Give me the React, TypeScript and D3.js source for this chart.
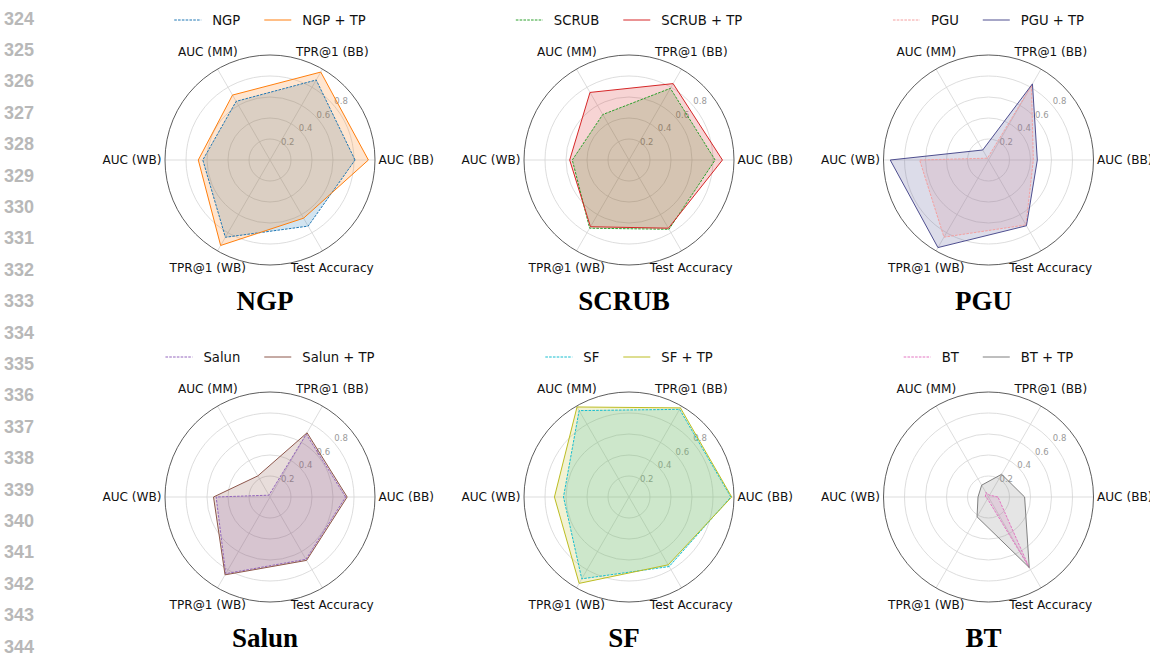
import React from "react";
import * as d3 from "d3";

// Radar axes, counter-clockwise from the east
const axisLabels = ["AUC (BB)", "TPR@1 (BB)", "AUC (MM)", "AUC (WB)", "TPR@1 (WB)", "Test Accuracy"];
const radialTicks = [0.2, 0.4, 0.6, 0.8];
const lineNumbers = d3.range(324, 345);

const methods = ["NGP", "SCRUB", "PGU", "Salun", "SF", "BT"];

// Scores per axis (same order as axisLabels)
const ngpBase = [0.81, 0.88, 0.645, 0.64, 0.85, 0.727];
const ngpTP = [0.937, 0.967, 0.714, 0.683, 0.94, 0.64];
const scrubBase = [0.82, 0.788, 0.5, 0.54, 0.75, 0.762];
const scrubTP = [0.89, 0.84, 0.743, 0.565, 0.734, 0.75];
const pguBase = [0.427, 0.818, 0.02, 0.656, 0.848, 0.714];
const pguTP = [0.465, 0.837, 0.11, 0.936, 0.963, 0.723];
const salunBase = [0.72, 0.69, 0.02, 0.513, 0.843, 0.685];
const salunTP = [0.735, 0.706, 0.232, 0.538, 0.856, 0.697];
const sfBase = [0.97, 0.964, 0.95, 0.624, 0.9, 0.765];
const sfTP = [0.978, 0.98, 0.99, 0.71, 0.95, 0.746];
const btBase = [0.09, 0.02, 0.05, 0.03, 0.02, 0.776];
const btTP = [0.344, 0.25, 0.13, 0.1, 0.218, 0.776];

const baseValues = [ngpBase, scrubBase, pguBase, salunBase, sfBase, btBase];
const tpValues = [ngpTP, scrubTP, pguTP, salunTP, sfTP, btTP];
const baseColors = ["#1f77b4", "#2ca02c", "#f4a0a0", "#9467bd", "#17becf", "#e377c2"];
const tpColors = ["#ff7f0e", "#d62728", "#4e4e8f", "#8c564b", "#bcbd22", "#7f7f7f"];

const W = 1150;
const H = 653;
const R = 105;
const colX = [270, 629, 988.5];
const rowY = [160, 497];
const sans = "'DejaVu Sans', sans-serif";

const rScale = d3.scaleLinear().domain([0, 1]).range([0, R]);
const theta = (i: number) => (i * 2 * Math.PI) / axisLabels.length;
// d3 radial angle: 0 at 12 o'clock, clockwise
const d3Angle = (i: number) => Math.PI / 2 - theta(i);

const radarLine = d3
  .lineRadial<number>()
  .angle((_, i) => d3Angle(i))
  .radius((d) => rScale(d))
  .curve(d3.curveLinearClosed);

const measureCtx = typeof document !== "undefined" ? document.createElement("canvas").getContext("2d") : null;
function measure(t: string, fs: number) {
  if (!measureCtx) return t.length * fs * 0.62;
  measureCtx.font = `${fs}px "DejaVu Sans"`;
  return measureCtx.measureText(t).width;
}

function Legend({ name, base, tp }: { name: string; base: string; tp: string }) {
  const fs = 13.2;
  const handle = 27;
  const gap = 11;
  const between = 24;
  const l1 = name;
  const l2 = `${name} + TP`;
  const total = handle + gap + measure(l1, fs) + between + handle + gap + measure(l2, fs);
  const x0 = -total / 2;
  const x2 = x0 + handle + gap + measure(l1, fs) + between;
  return (
    <g>
      <line x1={x0} x2={x0 + handle} y1={0} y2={0} stroke={base} strokeWidth={1} strokeDasharray="2.6,1.2" />
      <text x={x0 + handle + gap} y={0} dominantBaseline="central" fontSize={fs} fontFamily={sans} fill="#111">
        {l1}
      </text>
      <line x1={x2} x2={x2 + handle} y1={0} y2={0} stroke={tp} strokeWidth={1} />
      <text x={x2 + handle + gap} y={0} dominantBaseline="central" fontSize={fs} fontFamily={sans} fill="#111">
        {l2}
      </text>
    </g>
  );
}

function Radar({ k }: { k: number }) {
  const cx = colX[k % 3];
  const cy = rowY[Math.floor(k / 3)];
  const tickAngle = (37 * Math.PI) / 180;
  const labelFs = 12.1;
  return (
    <g>
      <g transform={`translate(${cx},${cy - 140})`}>
        <Legend name={methods[k]} base={baseColors[k]} tp={tpColors[k]} />
      </g>
      <g transform={`translate(${cx},${cy})`}>
        {radialTicks.map((t) => (
          <circle key={t} r={rScale(t)} fill="none" stroke="#d4d4d4" strokeWidth={0.8} />
        ))}
        {axisLabels.map((_, i) => (
          <line
            key={i}
            x1={0}
            y1={0}
            x2={rScale(1) * Math.cos(theta(i))}
            y2={-rScale(1) * Math.sin(theta(i))}
            stroke="#d4d4d4"
            strokeWidth={0.8}
          />
        ))}
        {radialTicks.map((t) => (
          <text
            key={t}
            x={rScale(t) * 1.06 * Math.cos(tickAngle)}
            y={-rScale(t) * 1.06 * Math.sin(tickAngle) - 5}
            textAnchor="middle"
            dominantBaseline="central"
            fontSize={8.5}
            fontFamily={sans}
            fill="#9a9a9a"
          >
            {t.toFixed(1)}
          </text>
        ))}
        <path d={radarLine(baseValues[k]) || ""} fill={baseColors[k]} fillOpacity={0.2} stroke="none" />
        <path d={radarLine(tpValues[k]) || ""} fill={tpColors[k]} fillOpacity={0.2} stroke="none" />
        <path d={radarLine(baseValues[k]) || ""} fill="none" stroke={baseColors[k]} strokeWidth={1} strokeDasharray="2.6,1.2" />
        <path d={radarLine(tpValues[k]) || ""} fill="none" stroke={tpColors[k]} strokeWidth={1} />
        <circle r={rScale(1)} fill="none" stroke="#333" strokeWidth={0.8} />
        {axisLabels.map((lab, i) => {
          const c = Math.cos(theta(i));
          const s = Math.sin(theta(i));
          if (Math.abs(s) < 1e-6) {
            return (
              <text
                key={lab}
                x={c > 0 ? rScale(1) + 3.5 : -rScale(1) - 3.5}
                y={0}
                textAnchor={c > 0 ? "start" : "end"}
                dominantBaseline="central"
                fontSize={labelFs}
                fontFamily={sans}
                fill="#111"
              >
                {lab}
              </text>
            );
          }
          const rr = R + 19.5;
          return (
            <text
              key={lab}
              x={rr * c}
              y={-rr * s}
              textAnchor="middle"
              dominantBaseline="central"
              fontSize={labelFs}
              fontFamily={sans}
              fill="#111"
            >
              {lab}
            </text>
          );
        })}
      </g>
      <text
        x={cx - 5}
        y={cy + 149.5}
        textAnchor="middle"
        fontSize={27}
        fontWeight="bold"
        fontFamily="'Liberation Serif', 'Times New Roman', serif"
        fill="#000"
      >
        {methods[k]}
      </text>
    </g>
  );
}

export default function App() {
  return (
    <svg
      width={W}
      height={H}
      viewBox={`0 0 ${W} ${H}`}
      style={{ position: "absolute", left: 0, top: 0, background: "#fff" }}
    >
      <rect width={W} height={H} fill="#fff" />
      {lineNumbers.map((n, i) => (
        <text
          key={n}
          x={4}
          y={24.5 + i * 31.4}
          fontSize={18}
          fontWeight="bold"
          fontFamily="'Liberation Sans', Arial, sans-serif"
          fill="#b8b8b8"
        >
          {n}
        </text>
      ))}
      {methods.map((_, k) => (
        <Radar key={k} k={k} />
      ))}
    </svg>
  );
}
